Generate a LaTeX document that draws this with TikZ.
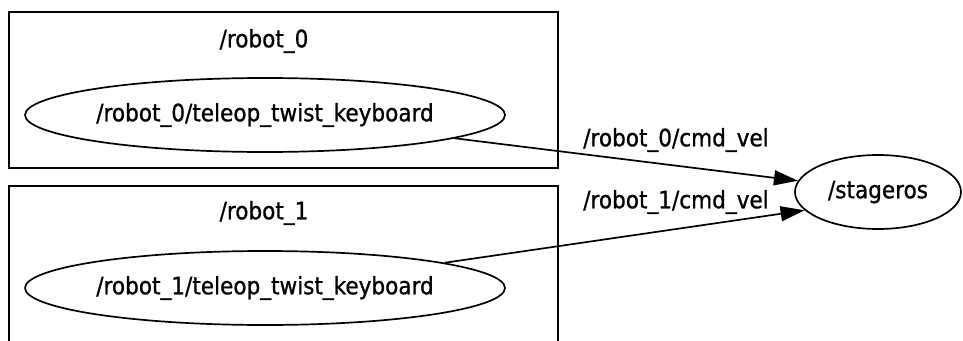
\documentclass[tikz,border=0pt]{standalone}
\usepackage{fontspec}
\IfFontExistsTF{DejaVu Sans Condensed}
  {\setmainfont[FakeBold=0.9]{DejaVu Sans Condensed}}
  {\setmainfont[FakeBold=0.9]{DejaVu Sans}}
\usetikzlibrary{shapes.geometric,arrows.meta}
\tikzset{
  every picture/.style={line width=1.7pt},
  txt/.style={font=\fontsize{24}{27}\selectfont, inner sep=0pt},
  topic/.style={ellipse, draw, minimum width=#1, minimum height=74pt, inner sep=0pt,
                font=\fontsize{24}{27}\selectfont},
  cluster/.style={draw},
  link/.style={-{Triangle[length=24pt,width=15pt]}},
}
\begin{document}
\begin{tikzpicture}[x=1pt,y=-1pt]
  \useasboundingbox (0,0) rectangle (963,340);
  \clip (0,0) rectangle (963,340);
  % namespace clusters
  \draw[cluster] (9,12) rectangle (558,168);
  \draw[cluster] (9,186) rectangle (558,360);
  \node[txt] (ns0) at (264,41) {/robot\_0};
  \node[txt] (ns1) at (264,213) {/robot\_1};
  % nodes
  \node[topic=480pt] (k0) at (265,115) {/robot\_0/teleop\_twist\_keyboard};
  \node[topic=480pt] (k1) at (265,288) {/robot\_1/teleop\_twist\_keyboard};
  \node[topic=166pt] (sg) at (878,192) {/stageros};
  % topics
  \draw[link] (k0.353) -- (sg.172);
  \draw[link] (k1.8) -- (sg.194);
  \node[txt] (l0) at (676,140) {/robot\_0/cmd\_vel};
  \node[txt] (l1) at (676,202) {/robot\_1/cmd\_vel};
\end{tikzpicture}
\end{document}
